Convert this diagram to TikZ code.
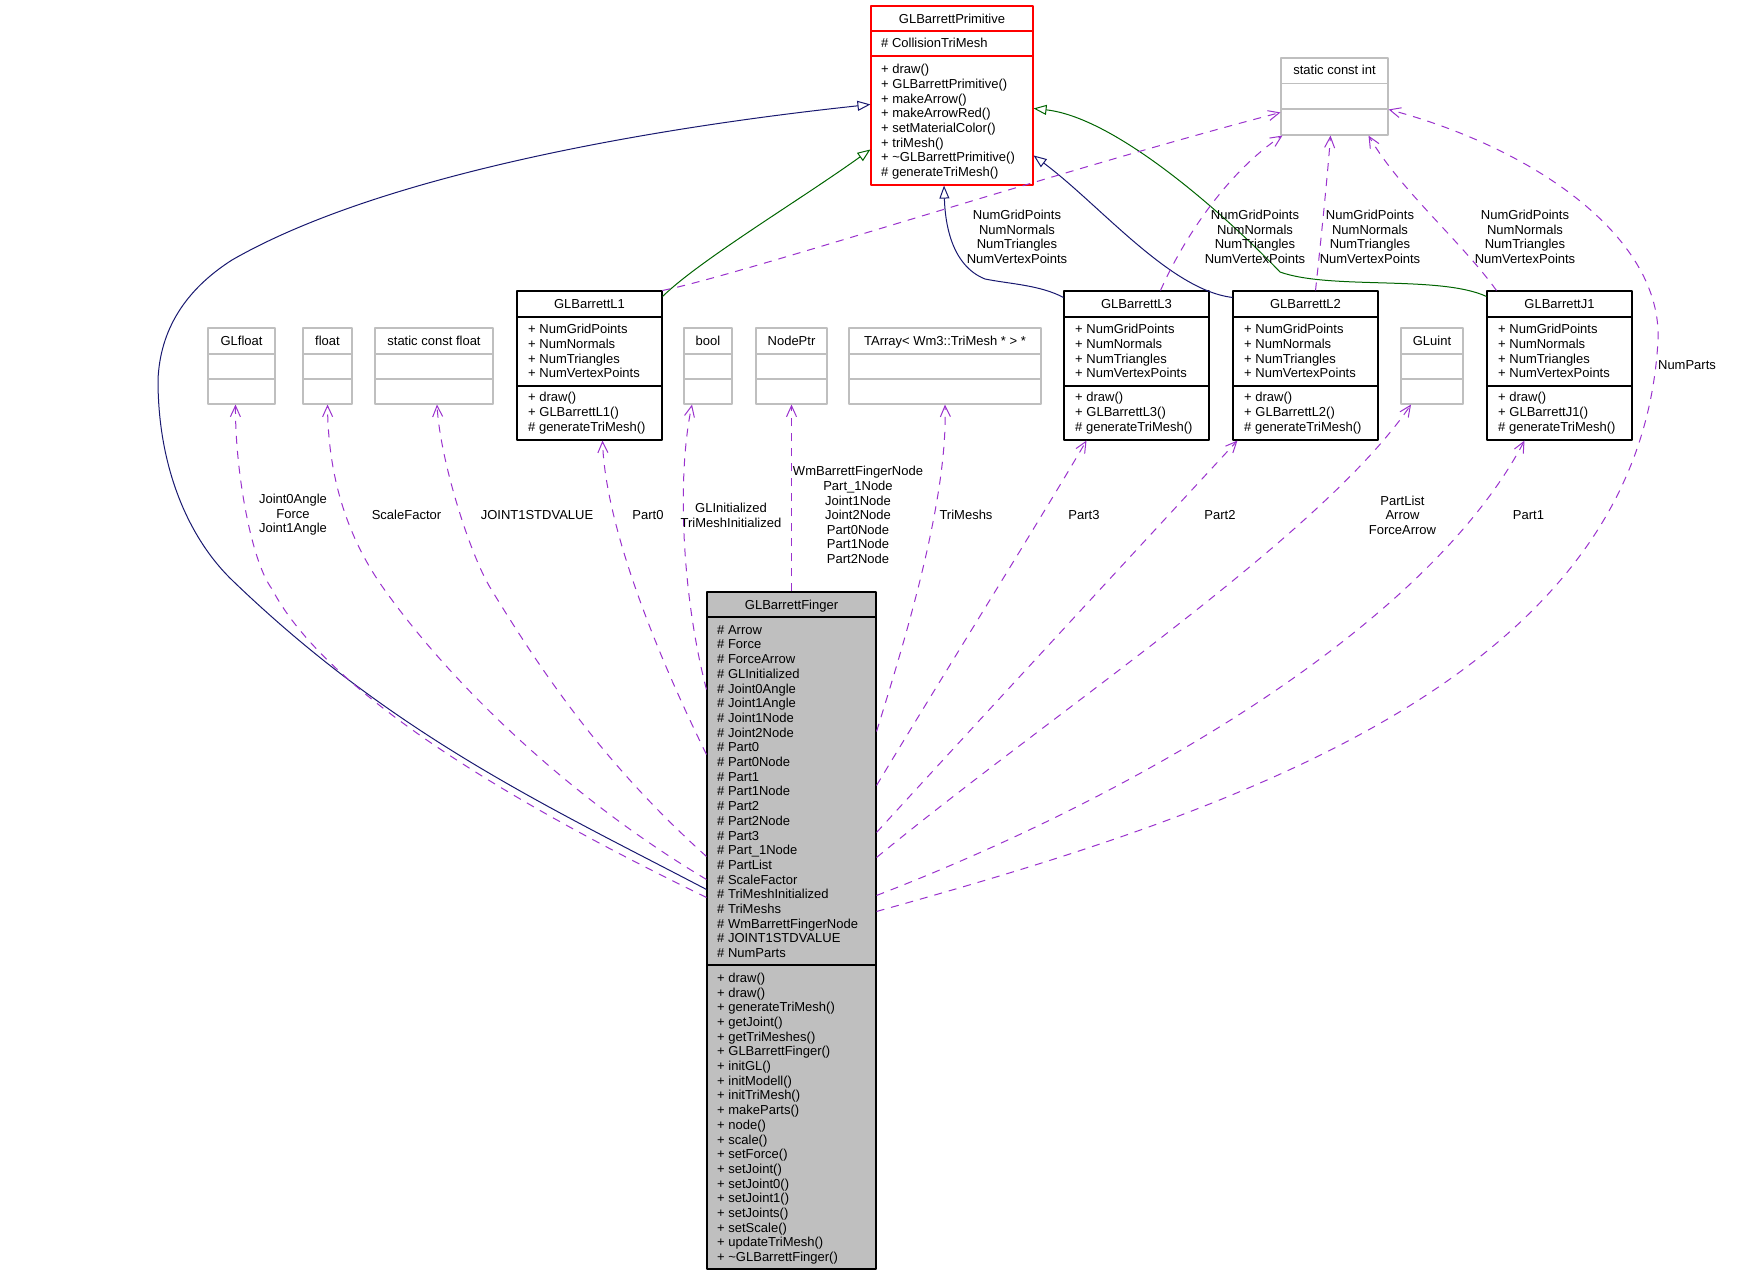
\documentclass[tikz,border=0pt]{standalone}
\usepackage{fontspec}
\setmainfont{Liberation Sans}
\usetikzlibrary{arrows.meta}

\definecolor{inhblue}{HTML}{191970}
\definecolor{inhgreen}{HTML}{006400}
\definecolor{usepurple}{HTML}{9A32CD}
\definecolor{fingray}{HTML}{BFBFBF}
\definecolor{typegray}{HTML}{BFBFBF}

\newcommand\dxfont{\fontsize{13}{14.6}\selectfont}

\tikzset{
  clsbox/.style={draw=black, line width=1.1pt, inner sep=0pt},
  redbox/.style={draw=red, line width=1.1pt, inner sep=0pt},
  finbox/.style={draw=black, fill=fingray, line width=1.1pt, inner sep=0pt},
  typebox/.style={draw=typegray, line width=1.1pt, inner sep=0pt},
  titletext/.style={anchor=base, inner sep=0pt, font=\dxfont},
  rowtext/.style={anchor=base west, inner sep=0pt, font=\dxfont},
  elabel/.style={align=center, inner sep=0pt, font=\dxfont},
  pubinh/.style={draw=inhblue, line width=1pt, -{Triangle[open, length=13pt, width=10pt]}},
  protinh/.style={draw=inhgreen, line width=1pt, -{Triangle[open, length=13pt, width=10pt]}},
  usage/.style={draw=usepurple, line width=1pt, dash pattern=on 8pt off 7pt,
    -{Straight Barb[length=11pt, width=10pt]}}
}

% name, style, divider colour, left, top, width, height, line 1, line 2
\newcommand\classbox[9]{%
  \node[#2, minimum width=#6pt, minimum height=#7pt] (#1) at ({#4+#6/2},{#5+#7/2}) {};
  \draw[draw=#3, line width=1.1pt] (#4,#8) -- ({#4+#6},#8) (#4,#9) -- ({#4+#6},#9);
}
% prefix, x, first baseline, rows
\newcommand\rowlist[4]{%
  \foreach \t [count=\i] in {#4}
    \node[rowtext] (#1\i) at ({#2},{#3+(\i-1)*14.7}) {\t};
}
% name, left, title
\newcommand\partbox[3]{%
  \classbox{#1}{clsbox}{black}{#2}{291}{145}{149}{317}{386}
  \node[titletext] (#1-t) at ({#2+72.5},308.7) {#3};
  \rowlist{#1-a}{#2+11}{333.7}{+ NumGridPoints,+ NumNormals,+ NumTriangles,+ NumVertexPoints}
  \rowlist{#1-m}{#2+11}{401.7}{+ draw(),+ #3(),\# generateTriMesh()}
}
% name, left, width, title
\newcommand\typebox[4]{%
  \classbox{#1}{typebox}{typegray}{#2}{328}{#3}{76}{354}{379}
  \node[titletext] (#1-t) at ({#2+#3/2},345.7) {#4};
}

\begin{document}
\begin{tikzpicture}[x=1pt, y=-1pt, line join=round]
\useasboundingbox (0,0) rectangle (1744,1275);

% base class and the constant
\classbox{prim}{redbox}{red}{871}{6}{162}{179}{31}{56}
\node[titletext] (prim-t) at (952,23.7) {GLBarrettPrimitive};
\rowlist{prim-a}{881}{47}{\# CollisionTriMesh}
\rowlist{prim-m}{881}{73.7}{+ draw(),+ GLBarrettPrimitive(),+ makeArrow(),+ makeArrowRed(),+ setMaterialColor(),+ triMesh(),+ \textasciitilde GLBarrettPrimitive(),\# generateTriMesh()}

\classbox{sci}{typebox}{typegray}{1281}{58}{107}{77}{83.5}{109}
\node[titletext] (sci-t) at (1334.5,74.7) {static const int};

% parts
\partbox{l1}{517}{GLBarrettL1}
\partbox{l3}{1064}{GLBarrettL3}
\partbox{l2}{1233}{GLBarrettL2}
\partbox{j1}{1487}{GLBarrettJ1}

% member types
\typebox{glf}{208}{67}{GLfloat}
\typebox{flt}{303}{49}{float}
\typebox{scf}{375}{118}{static const float}
\typebox{bool}{684}{48}{bool}
\typebox{nodeptr}{756}{71}{NodePtr}
\typebox{tarr}{849}{192}{TArray< Wm3::TriMesh * > *}
\typebox{gluint}{1401}{62}{GLuint}

% the finger
\classbox{fin}{finbox}{black}{707}{592}{169}{677}{617}{965}
\node[titletext] (fin-t) at (791.5,609.7) {GLBarrettFinger};
\rowlist{fin-a}{717}{634.2}{\# Arrow,\# Force,\# ForceArrow,\# GLInitialized,\# Joint0Angle,\# Joint1Angle,\# Joint1Node,\# Joint2Node,\# Part0,\# Part0Node,\# Part1,\# Part1Node,\# Part2,\# Part2Node,\# Part3,\# Part\_1Node,\# PartList,\# ScaleFactor,\# TriMeshInitialized,\# TriMeshs,\# WmBarrettFingerNode,\# JOINT1STDVALUE,\# NumParts}
\rowlist{fin-m}{717}{982.3}{+ draw(),+ draw(),+ generateTriMesh(),+ getJoint(),+ getTriMeshes(),+ GLBarrettFinger(),+ initGL(),+ initModell(),+ initTriMesh(),+ makeParts(),+ node(),+ scale(),+ setForce(),+ setJoint(),+ setJoint0(),+ setJoint1(),+ setJoints(),+ setScale(),+ updateTriMesh(),+ \textasciitilde GLBarrettFinger()}

% inheritance
\draw[pubinh] ([yshift=-298pt]fin.north west) .. controls (547,806) and (393,735) .. (233,581)
  .. controls (190,540) and (158,470) .. (158,380)
  .. controls (160,330) and (185,290) .. (232,260)
  .. controls (380,175) and (650,128) .. ([yshift=-99pt]prim.north west);
\draw[pubinh] ([yshift=-7pt]l3.north west) .. controls (1040,285) and (1010,284) .. (985,279)
  .. controls (950,265) and (945,220) .. ([xshift=-8pt]prim.south);
\draw[pubinh] ([yshift=-7pt]l2.north west) .. controls (1170,290) and (1100,205) .. ([yshift=-150pt]prim.north east);
\draw[protinh] ([yshift=-6pt]l1.north east) .. controls (700,260) and (800,200) .. ([yshift=-144pt]prim.north west);
\draw[protinh] ([yshift=-6pt]j1.north west) .. controls (1440,275) and (1330,290) .. (1280,272)
  .. controls (1235,225) and (1120,118) .. ([yshift=-103pt]prim.north east);

% constants used by the parts
\draw[usage] (l1.north east) .. controls (740,275) and (1060,170) .. ([yshift=-55pt]sci.north west);
\draw[usage] ([xshift=24pt]l3.north) .. controls (1185,235) and (1230,170) .. ([xshift=2pt]sci.south west);
\draw[usage] ([xshift=10pt]l2.north) .. controls (1322,230) and (1328,170) .. ([xshift=-4pt]sci.south);
\draw[usage] ([xshift=10pt]j1.north west) .. controls (1460,240) and (1400,190) .. ([xshift=34pt]sci.south);
\node[elabel] (lab-l1) at (1017,237) {NumGridPoints\\NumNormals\\NumTriangles\\NumVertexPoints};
\node[elabel] (lab-l3) at (1255,237) {NumGridPoints\\NumNormals\\NumTriangles\\NumVertexPoints};
\node[elabel] (lab-l2) at (1370,237) {NumGridPoints\\NumNormals\\NumTriangles\\NumVertexPoints};
\node[elabel] (lab-j1) at (1525,237) {NumGridPoints\\NumNormals\\NumTriangles\\NumVertexPoints};

% members of the finger
\draw[usage] ([yshift=-306pt]fin.north west) .. controls (537,815) and (330,700) .. (272,589)
  .. controls (251,561) and (235,470) .. ([xshift=-6pt]glf.south);
\draw[usage] ([yshift=-288pt]fin.north west) .. controls (577,802) and (459,694) .. (384,589)
  .. controls (339,526) and (328,460) .. (flt.south);
\draw[usage] ([yshift=-265pt]fin.north west) .. controls (607,767) and (546,679) .. (491,589)
  .. controls (470,555) and (440,460) .. ([xshift=3pt]scf.south);
\draw[usage] ([yshift=-163pt]fin.north west) .. controls (650,640) and (605,520) .. ([xshift=13pt]l1.south);
\draw[usage] ([yshift=-98pt]fin.north west) .. controls (683,600) and (676,480) .. ([xshift=-16pt]bool.south);
\draw[usage] (fin.north) -- (nodeptr.south);
\draw[usage] ([yshift=-140pt]fin.north east) .. controls (905,640) and (948,500) .. (tarr.south);
\draw[usage] ([yshift=-194pt]fin.north east) .. controls (940,680) and (1040,520) .. ([xshift=-50pt]l3.south);
\draw[usage] ([yshift=-241pt]fin.north east) .. controls (996,702) and (1117,571) .. ([xshift=5pt]l2.south west);
\draw[usage] ([yshift=-266pt]fin.north east) .. controls (1056,710) and (1321,536) .. ([xshift=-21pt]gluint.south);
\draw[usage] ([yshift=-304pt]fin.north east) .. controls (1150,790) and (1430,620) .. ([xshift=-35pt]j1.south);
\draw[usage] ([yshift=-320pt]fin.north east) .. controls (1226,814) and (1640,680) .. (1658,340)
  .. controls (1662,240) and (1540,150) .. ([yshift=-52pt]sci.north east);

\node[elabel] (lab-glf) at (293,515) {Joint0Angle\\Force\\Joint1Angle};
\node[elabel] (lab-flt) at (406.5,515) {ScaleFactor};
\node[elabel] (lab-scf) at (537,515) {JOINT1STDVALUE};
\node[elabel] (lab-p0) at (648,515) {Part0};
\node[elabel] (lab-bool) at (731,515.5) {GLInitialized\\TriMeshInitialized};
\node[elabel] (lab-np) at (858,515) {WmBarrettFingerNode\\Part\_1Node\\Joint1Node\\Joint2Node\\Part0Node\\Part1Node\\Part2Node};
\node[elabel] (lab-tarr) at (966,515) {TriMeshs};
\node[elabel] (lab-p3) at (1084,515) {Part3};
\node[elabel] (lab-p2) at (1220,515) {Part2};
\node[elabel] (lab-gluint) at (1402.5,515) {PartList\\Arrow\\ForceArrow};
\node[elabel] (lab-p1) at (1528.5,515) {Part1};
\node[elabel] (lab-np2) at (1687,365) {NumParts};
\end{tikzpicture}
\end{document}
